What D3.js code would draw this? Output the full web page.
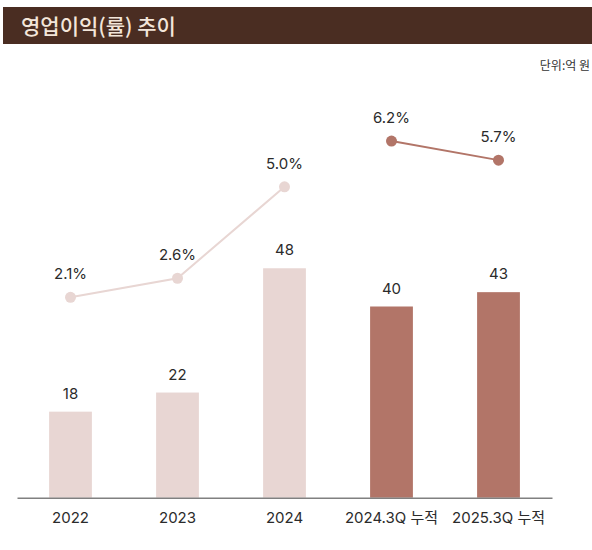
<!DOCTYPE html>
<html>
<head>
<meta charset="utf-8">
<script src="https://cdn.jsdelivr.net/npm/d3@7"></script>
<style>
  body { margin: 0; background: #fff; }
  svg { display: block; font-family: "Inter", "Noto Sans CJK KR", sans-serif; }
  .axis .domain { stroke: #808080; stroke-width: 1.5; }
  .axis text { font-size: 15px; fill: #2b2b2b; }
  .val { font-size: 15px; fill: #2b2b2b; text-anchor: middle; }
</style>
</head>
<body>
<div id="chart"></div>
<script>
// values
var categories = ["2022", "2023", "2024", "2024.3Q 누적", "2025.3Q 누적"];
var profit = [18, 22, 48, 40, 43];          // 억 원
var marginRate = [2.1, 2.6, 5.0, 6.2, 5.7];   // %
var period = ["year", "year", "year", "cum", "cum"];

var width = 592, height = 550;
var colors = { year: "#e8d6d3", cum: "#b27568" };

var svg = d3.select("#chart").append("svg")
    .attr("width", width)
    .attr("height", height);

// title bar
svg.append("rect")
    .attr("x", 3).attr("y", 7)
    .attr("width", width - 3).attr("height", 37)
    .attr("fill", "#4a2d22");

svg.append("text")
    .attr("x", 21).attr("y", 33.5)
    .attr("font-family", "'Noto Sans CJK KR', sans-serif")
    .attr("font-size", 21)
    .attr("font-weight", 500)
    .attr("fill", "#f3e6da")
    .text("영업이익(률) 추이");

svg.append("text")
    .attr("x", 590).attr("y", 69.5)
    .attr("text-anchor", "end")
    .attr("font-family", "'Noto Sans CJK KR', sans-serif")
    .attr("font-size", 12)
    .attr("fill", "#333")
    .text("단위:억 원");

var data = categories.map(function(c, i) {
    return { cat: c, value: profit[i], rate: marginRate[i], type: period[i] };
});

var x = d3.scaleBand()
    .domain(categories)
    .range([17, 552])
    .paddingInner(0.6)
    .paddingOuter(0.3);

var y = d3.scaleLinear().domain([0, 50]).range([497.7, 258.7]);
var yRate = d3.scaleLinear().domain([0, 10]).range([377.3, -3.7]);

function cx(d) { return x(d.cat) + x.bandwidth() / 2; }

// bars
svg.selectAll(".bar")
    .data(data)
  .enter().append("rect")
    .attr("class", "bar")
    .attr("x", function(d) { return x(d.cat); })
    .attr("y", function(d) { return y(d.value); })
    .attr("width", x.bandwidth())
    .attr("height", function(d) { return y(0) - y(d.value); })
    .attr("fill", function(d) { return colors[d.type]; });

svg.selectAll(".barlabel")
    .data(data)
  .enter().append("text")
    .attr("class", "val")
    .attr("x", cx)
    .attr("y", function(d) { return y(d.value) - 13; })
    .text(function(d) { return d.value; });

// axis
svg.append("g")
    .attr("class", "axis")
    .attr("transform", "translate(0," + y(0) + ")")
    .call(d3.axisBottom(x).tickSize(0).tickSizeOuter(0).tickPadding(15))
    .attr("font-family", null);

// margin rate lines, one per period type
var line = d3.line()
    .x(cx)
    .y(function(d) { return yRate(d.rate); });

["year", "cum"].forEach(function(t) {
    var pts = data.filter(function(d) { return d.type === t; });
    svg.append("path")
        .datum(pts)
        .attr("fill", "none")
        .attr("stroke", colors[t])
        .attr("stroke-width", 2)
        .attr("d", line);
});

svg.selectAll(".dot")
    .data(data)
  .enter().append("circle")
    .attr("cx", cx)
    .attr("cy", function(d) { return yRate(d.rate); })
    .attr("r", 5.5)
    .attr("fill", function(d) { return colors[d.type]; });

svg.selectAll(".ratelabel")
    .data(data)
  .enter().append("text")
    .attr("class", "val")
    .attr("x", cx)
    .attr("y", function(d) { return yRate(d.rate) - 18; })
    .text(function(d) { return d3.format(".1f")(d.rate) + "%"; });
</script>
</body>
</html>
